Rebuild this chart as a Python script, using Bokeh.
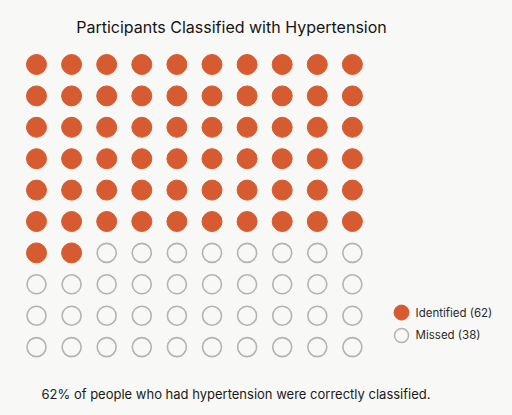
from bokeh.plotting import figure
from bokeh.models import Range1d, ColumnDataSource
from bokeh.core.properties import value
from bokeh.embed import file_html
from bokeh.resources import INLINE

# ---- data ----
title_text = "Participants Classified with Hypertension"
categories = ["Identified", "Missed"]
counts = [62, 38]
n_cols = 10
n_rows = 10
footnote = "62% of people who had hypertension were correctly classified."

ORANGE = "#d65b30"
GRAY = "#b3b3b3"
BG = "#f8f8f6"
FONT = "Inter"

# waffle cells, filled row by row from top-left
xs, ys, filled = [], [], []
for k in range(n_rows * n_cols):
    r, c = divmod(k, n_cols)
    xs.append(c)
    ys.append(r)
    filled.append(k < counts[0])

src_f = ColumnDataSource(dict(x=[x for x, f in zip(xs, filled) if f],
                              y=[y for y, f in zip(ys, filled) if f]))
src_m = ColumnDataSource(dict(x=[x for x, f in zip(xs, filled) if not f],
                              y=[y for y, f in zip(ys, filled) if not f]))

W, H = 512, 415
dx, dy = 35.1, 31.4
x0 = -36 / dx
y0 = -64 / dy

p = figure(width=W, height=H, output_backend="svg", toolbar_location=None,
           x_range=Range1d(x0, x0 + W / dx), y_range=Range1d(y0 + H / dy, y0),
           min_border=0, background_fill_color=BG, border_fill_color=BG,
           outline_line_color=None)
p.axis.visible = False
p.grid.visible = False

p.scatter("x", "y", source=src_f, size=20, fill_color=ORANGE, line_color=ORANGE, line_width=1)
p.scatter("x", "y", source=src_m, size=19, fill_color=None, line_color=GRAY, line_width=1.6)

# title
p.text(x=[5.556], y=[-1.21], text=[title_text], text_font=value(FONT),
       text_font_size="16px", text_color="#151515", text_align="center",
       text_baseline="middle")

# legend
lx = 10.40
ly = [7.90, 8.63]
p.scatter(x=[lx], y=[ly[0]], size=15, fill_color=ORANGE, line_color=ORANGE)
p.scatter(x=[lx], y=[ly[1]], size=14, fill_color=None, line_color=GRAY, line_width=1.5)
labels = [f"{c} ({n})" for c, n in zip(categories, counts)]
p.text(x=[10.80, 10.80], y=ly, text=labels, text_font=value(FONT),
       text_font_size="11.5px", text_color="#2a2a2a", text_align="left",
       text_baseline="middle")

# footnote
p.text(x=[0.142], y=[10.48], text=[footnote], text_font=value(FONT),
       text_font_size="13px", text_color="#1a1a1a", text_align="left",
       text_baseline="middle")

html = file_html(p, INLINE)
html = html.replace("<head>", "<head><style>html,body{background:%s;margin:0;padding:0;overflow:hidden;}</style>" % BG, 1)
open("out.html", "w").write(html)
